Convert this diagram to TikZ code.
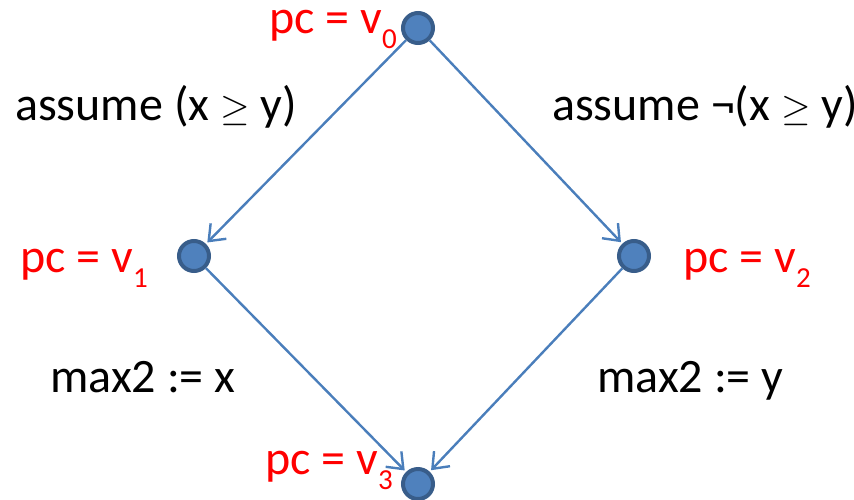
\RequirePackage{fix-cm}
\documentclass[tikz,border=0pt]{standalone}
\usepackage{fontspec}
\setmainfont{Carlito}
\usetikzlibrary{arrows.meta}
\definecolor{dolgu}{HTML}{4F81BD}
\definecolor{cizgi}{HTML}{385D8A}
\definecolor{kenarrenk}{HTML}{4A7EBB}
\newcommand{\altind}[1]{\raisebox{-0.33em}{\fontsize{29}{34}\selectfont #1}}
\newcommand{\buyukesit}{{\fontsize{38}{44}\selectfont$\geq$}}

\begin{document}
\begin{tikzpicture}[x=1pt, y=-1pt, font=\fontsize{48}{58}\selectfont,
    nokta/.style={circle, fill=dolgu, draw=cizgi, line width=4pt,
      minimum size=30pt, inner sep=0pt},
    kenar/.style={kenarrenk, line width=2.4pt, shorten >=2pt,
      -{Straight Barb[length=14pt, width=22pt, line width=2.4pt]}},
    etiket/.style={text=red, inner sep=0pt, anchor=base west},
    yazi/.style={inner sep=0pt, anchor=base west}]
  \useasboundingbox (0,0) rectangle (854,499);

  % durumlar
  \node[nokta] (v0) at (418,28) {};
  \node[nokta] (v1) at (194,256) {};
  \node[nokta] (v2) at (634,256) {};
  \node[nokta] (v3) at (418,484) {};

  % pc etiketleri
  \node[etiket] (p0) at (269,33) {pc = v\altind{0}};
  \node[etiket] (p1) at (20,272) {pc = v\altind{1}};
  \node[etiket] (p2) at (683,272) {pc = v\altind{2}};
  \node[etiket] (p3) at (265,474) {pc = v\altind{3}};

  % gecisler
  \draw[kenar] (v0) -- (v1);
  \draw[kenar] (v0) -- (v2);
  \draw[kenar] (v1) -- (v3);
  \draw[kenar] (v2) -- (v3);

  % kosullar ve atamalar
  \node[yazi] (k1) at (15,120) {assume (x \buyukesit{} y)};
  \node[yazi] (k2) at (552,120) {assume ¬(x \buyukesit{} y)};
  \node[yazi] (a1) at (50,392) {max2 := x};
  \node[yazi] (a2) at (597,392) {max2 := y};
\end{tikzpicture}
\end{document}
